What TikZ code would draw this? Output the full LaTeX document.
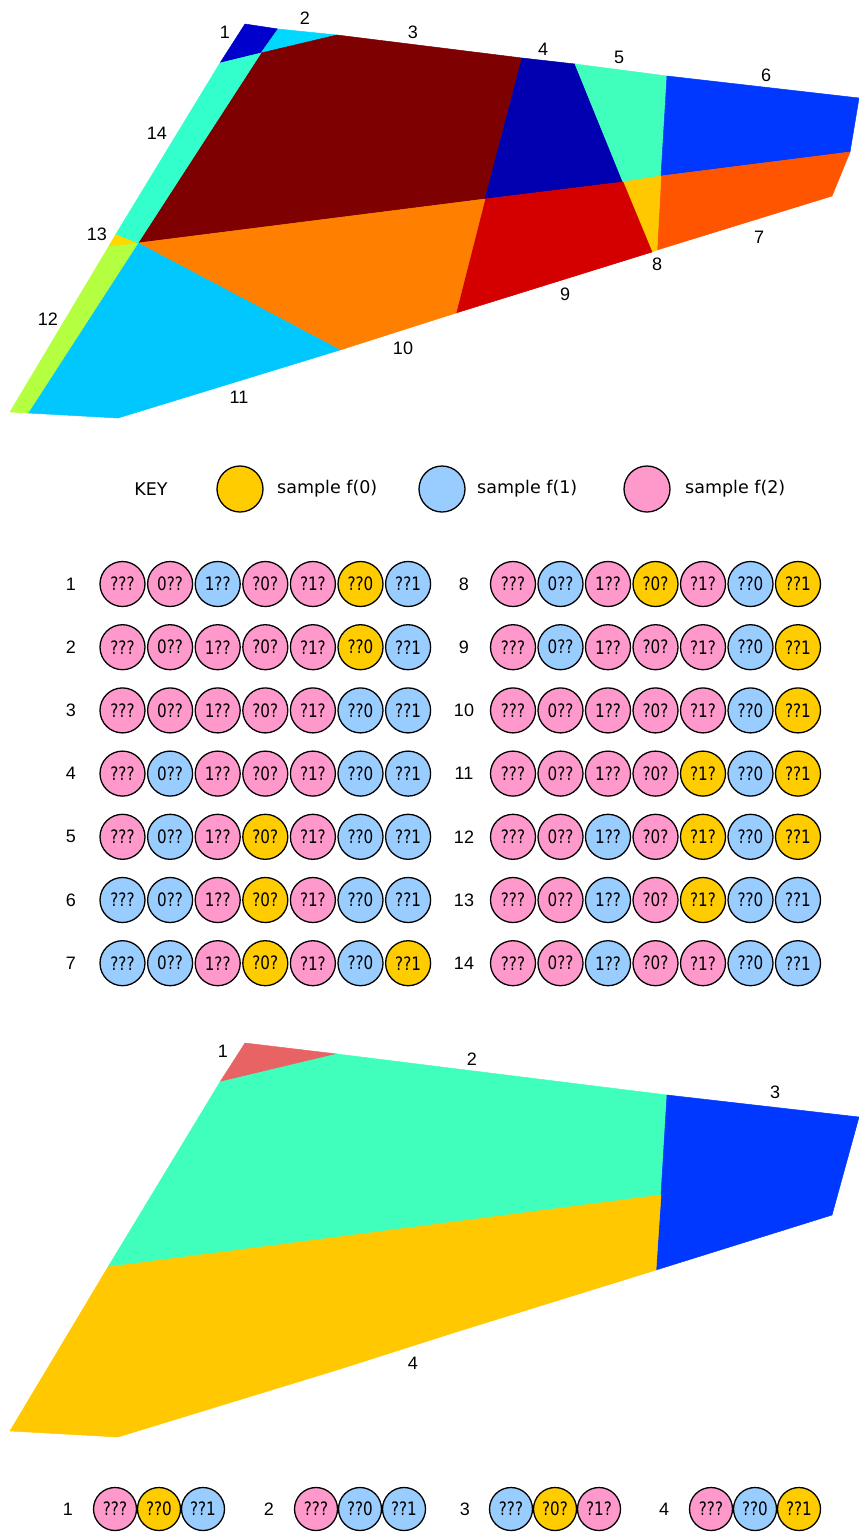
\documentclass[tikz,border=0pt]{standalone}
\usepackage{fontspec}
\setmainfont{DejaVu Sans}
\newfontfamily\numfont{Liberation Sans}
\newfontfamily\circfont[FakeStretch=0.82]{DejaVu Sans}
\definecolor{pk}{RGB}{255,153,204}
\definecolor{bl}{RGB}{153,204,255}
\definecolor{yl}{RGB}{255,204,0}
\definecolor{ra}{RGB}{0,0,204}
\definecolor{rb}{RGB}{0,216,255}
\definecolor{rc}{RGB}{127,0,0}
\definecolor{rd}{RGB}{0,0,176}
\definecolor{re}{RGB}{64,255,188}
\definecolor{rf}{RGB}{0,56,255}
\definecolor{rg}{RGB}{255,85,0}
\definecolor{rh}{RGB}{255,200,0}
\definecolor{ri}{RGB}{212,0,0}
\definecolor{rj}{RGB}{255,128,0}
\definecolor{rk}{RGB}{0,200,255}
\definecolor{rl}{RGB}{180,255,64}
\definecolor{rm}{RGB}{255,216,0}
\definecolor{rn}{RGB}{51,255,204}
\definecolor{sa}{RGB}{232,100,100}
\tikzset{
  blob/.style={circle, draw=black, line width=1.3pt, minimum size=45pt, inner sep=0pt,
    font=\circfont\fontsize{18.5}{18.5}\selectfont},
  lab/.style={font=\numfont\fontsize{18}{18}\selectfont, inner sep=0pt, text=black},
  keytext/.style={font=\fontsize{17.5}{17.5}\selectfont, inner sep=0pt, text=black},
  reg/.style={line width=0.5pt, line join=round},
}
\begin{document}
\begin{tikzpicture}[x=1pt,y=-1pt]
\useasboundingbox (0,0) rectangle (859,1540);
% ---------- top polygon ----------
\coordinate (A) at (245,24);
\coordinate (B) at (278,29);
\coordinate (C) at (337,35);
\coordinate (D) at (522,58);
\coordinate (E) at (575,64);
\coordinate (F) at (667,76);
\coordinate (G) at (859,98);
\coordinate (H) at (850,152);
\coordinate (I) at (832,196);
\coordinate (J) at (657,250);
\coordinate (J2) at (652,252);
\coordinate (K) at (456,313);
\coordinate (L) at (340,350);
\coordinate (M) at (118,418);
\coordinate (N) at (28,413);
\coordinate (O) at (10,412);
\coordinate (Q) at (109,246);
\coordinate (R) at (116,234);
\coordinate (S) at (220,63);
\coordinate (T) at (261,53);
\coordinate (U) at (138,243);
\coordinate (V) at (485,199);
\coordinate (W) at (623,182);
\coordinate (X) at (661,176);
\filldraw[reg, fill=ra, draw=ra] (A) -- (B) -- (T) -- (S) -- cycle;
\filldraw[reg, fill=rb, draw=rb] (B) -- (C) -- (T) -- cycle;
\filldraw[reg, fill=rc, draw=rc] (T) -- (C) -- (D) -- (V) -- (U) -- cycle;
\filldraw[reg, fill=rd, draw=rd] (D) -- (E) -- (W) -- (V) -- cycle;
\filldraw[reg, fill=re, draw=re] (E) -- (F) -- (X) -- (W) -- cycle;
\filldraw[reg, fill=rf, draw=rf] (F) -- (G) -- (H) -- (X) -- cycle;
\filldraw[reg, fill=rg, draw=rg] (X) -- (H) -- (I) -- (J) -- cycle;
\filldraw[reg, fill=rh, draw=rh] (W) -- (X) -- (J) -- (J2) -- cycle;
\filldraw[reg, fill=ri, draw=ri] (V) -- (W) -- (J2) -- (K) -- cycle;
\filldraw[reg, fill=rj, draw=rj] (U) -- (V) -- (K) -- (L) -- cycle;
\filldraw[reg, fill=rk, draw=rk] (U) -- (L) -- (M) -- (N) -- cycle;
\filldraw[reg, fill=rl, draw=rl] (Q) -- (U) -- (N) -- (O) -- cycle;
\filldraw[reg, fill=rm, draw=rm] (R) -- (U) -- (Q) -- cycle;
\filldraw[reg, fill=rn, draw=rn] (S) -- (T) -- (U) -- (R) -- cycle;
\node[lab] (t1) at (225,32) {1};
\node[lab] (t2) at (305,18) {2};
\node[lab] (t3) at (413,32) {3};
\node[lab] (t4) at (543,49) {4};
\node[lab] (t5) at (619,57) {5};
\node[lab] (t6) at (766,75) {6};
\node[lab] (t7) at (759,237) {7};
\node[lab] (t8) at (657,264) {8};
\node[lab] (t9) at (565,294) {9};
\node[lab] (t10) at (403,348) {10};
\node[lab] (t11) at (239,397) {11};
\node[lab] (t12) at (48,319) {12};
\node[lab] (t13) at (97,234) {13};
\node[lab] (t14) at (157,133) {14};
% ---------- key ----------
\node[keytext] (key) at (151,489) {KEY};
\node[blob, fill=yl, minimum size=46pt] (k0) at (240,489) {};
\node[keytext, anchor=west] (k0t) at (277,489) {sample f(0)};
\node[blob, fill=bl, minimum size=46pt] (k1) at (442,489) {};
\node[keytext, anchor=west] (k1t) at (477,489) {sample f(1)};
\node[blob, fill=pk, minimum size=46pt] (k2) at (647,489) {};
\node[keytext, anchor=west] (k2t) at (685,489) {sample f(2)};
% ---------- table ----------
\foreach \r/\lx/\cx/\dx/\y/\a/\b/\c/\d/\e/\f/\g in {
  1/71/122.5/47.6/584/pk/pk/bl/pk/pk/yl/bl,
  2/71/122.5/47.6/647.2/pk/pk/pk/pk/pk/yl/bl,
  3/71/122.5/47.6/710.4/pk/pk/pk/pk/pk/bl/bl,
  4/71/122.5/47.6/773.6/pk/bl/pk/pk/pk/bl/bl,
  5/71/122.5/47.6/836.8/pk/bl/pk/yl/pk/bl/bl,
  6/71/122.5/47.6/900/bl/bl/pk/yl/pk/bl/bl,
  7/71/122.5/47.6/963.2/bl/bl/pk/yl/pk/bl/yl,
  8/464/513/47.5/584/pk/bl/pk/yl/pk/bl/yl,
  9/464/513/47.5/647.2/pk/bl/pk/pk/pk/bl/yl,
  10/464/513/47.5/710.4/pk/pk/pk/pk/pk/bl/yl,
  11/464/513/47.5/773.6/pk/pk/pk/pk/yl/bl/yl,
  12/464/513/47.5/836.8/pk/pk/bl/pk/yl/bl/yl,
  13/464/513/47.5/900/pk/pk/bl/pk/yl/bl/bl,
  14/464/513/47.5/963.2/pk/pk/bl/pk/pk/bl/bl}{
  \node[lab] (row\r) at (\lx,\y) {\r};
  \foreach \k/\t/\cc in {0/???/\a,1/0??/\b,2/1??/\c,3/?0?/\d,4/?1?/\e,5/??0/\f,6/??1/\g}{
    \node[blob, fill=\cc] (c\r-\k) at ({\cx+\k*\dx},\y) {\t};
  }
}
% ---------- bottom polygon ----------
\begin{scope}[shift={(0,1019)}]
\coordinate (bA) at (245,24);
\coordinate (bC) at (337,35);
\coordinate (bS) at (220,63);
\coordinate (bF) at (667,76);
\coordinate (bG) at (859,98);
\coordinate (bI) at (832,196);
\coordinate (bX) at (661,176);
\coordinate (bJ) at (656,251);
\coordinate (bK) at (456,313);
\coordinate (bL) at (340,350);
\coordinate (bM) at (118,418);
\coordinate (bN) at (28,413);
\coordinate (bO) at (10,412);
\coordinate (bP) at (108,248);
\filldraw[reg, fill=sa, draw=sa] (bA) -- (bC) -- (bS) -- cycle;
\filldraw[reg, fill=re, draw=re] (bS) -- (bC) -- (bF) -- (bX) -- (bP) -- cycle;
\filldraw[reg, fill=rf, draw=rf] (bF) -- (bG) -- (bI) -- (bJ) -- (bX) -- cycle;
\filldraw[reg, fill=rh, draw=rh] (bP) -- (bX) -- (bJ) -- (bK) -- (bL) -- (bM) -- (bN) -- (bO) -- cycle;
\end{scope}
\node[lab] (b1) at (223,1051) {1};
\node[lab] (b2) at (472,1059) {2};
\node[lab] (b3) at (775,1092) {3};
\node[lab] (b4) at (413,1363) {4};
% ---------- bottom row ----------
\foreach \g/\lx/\cx/\a/\ta/\b/\tb/\c/\tc in {
  1/68/115/pk/???/yl/??0/bl/??1,
  2/269/316/pk/???/bl/??0/bl/??1,
  3/465/511/bl/???/yl/?0?/pk/?1?,
  4/664/711/pk/???/bl/??0/yl/??1}{
  \node[lab] (g\g) at (\lx,1509) {\g};
  \node[blob, fill=\a, minimum size=43pt] (g\g-0) at (\cx,1509) {\ta};
  \node[blob, fill=\b, minimum size=43pt] (g\g-1) at ({\cx+44},1509) {\tb};
  \node[blob, fill=\c, minimum size=43pt] (g\g-2) at ({\cx+88},1509) {\tc};
}
\end{tikzpicture}
\end{document}
